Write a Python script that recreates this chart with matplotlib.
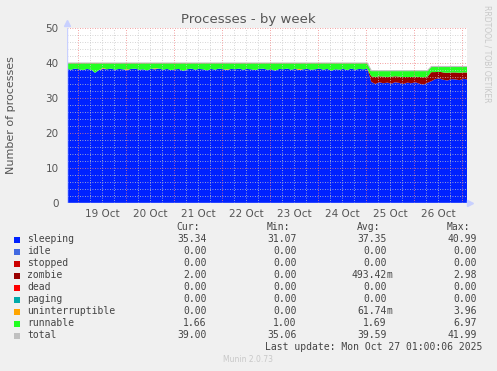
import numpy as np
import matplotlib
matplotlib.use("Agg")
import matplotlib.pyplot as plt

W, H = 497, 371

# ---- data (2-hour samples, days relative to 19 Oct 00:00) ----
start_day = -0.227
step_hours = 2
sleeping = [38.3, 38.1, 38.4, 38.2, 38.0, 38.3, 38.1, 37.2, 38.0, 38.3,
            38.2, 38.4, 38.1, 38.3, 38.2, 38.0, 38.3, 38.4, 38.1, 38.2,
            37.9, 38.3, 38.2, 38.4, 38.1, 38.3, 38.0, 38.2, 38.3, 37.7,
            38.2, 38.4, 38.1, 38.3, 38.2, 37.9, 38.3, 38.1, 38.4, 38.2,
            38.0, 38.3, 38.2, 38.4, 38.1, 38.3, 38.2, 38.0, 38.3, 38.4,
            38.1, 38.2, 37.8, 38.3, 38.2, 38.4, 38.1, 38.3, 38.0, 38.2,
            38.3, 38.1, 38.2, 38.4, 38.1, 38.3, 37.8, 38.2, 38.1, 38.3,
            38.0, 38.4, 38.1, 38.3, 38.2, 38.3,
            34.6, 34.0, 34.5, 34.2, 34.4, 34.1, 34.5, 34.3, 34.0, 34.4,
            34.2, 34.5, 34.1, 33.8, 34.3,
            34.8, 35.4, 35.6, 35.2, 35.0, 35.4, 35.3, 35.1, 35.5, 35.3]
idle = [0.0] * 101
stopped = [0.0] * 101
zombie = [0.0] * 76 + [1.6, 2.0, 1.7, 1.9, 1.6, 2.0, 1.7, 1.8, 2.0, 1.6,
                       1.8, 1.6, 1.9, 2.1, 1.8,
                       2.6, 2.0, 1.9, 2.1, 2.2, 1.9, 2.0, 2.1, 1.8, 2.0]
dead = [0.0] * 101
paging = [0.0] * 101
uninterruptible = ([0.0] * 9 + [0.3] + [0.0] * 5 + [0.2] + [0.0] * 6 + [0.3]
                   + [0.0] * 17 + [0.2] + [0.0] * 17 + [0.3] + [0.0] * 42)
runnable = [1.7, 1.9, 1.6, 1.8, 2.0, 1.7, 1.9, 2.8, 2.0, 1.4,
            1.8, 1.6, 1.9, 1.7, 1.8, 1.8, 1.7, 1.6, 1.9, 1.8,
            2.1, 1.7, 1.5, 1.6, 1.9, 1.7, 2.0, 1.8, 1.7, 2.3,
            1.8, 1.6, 1.9, 1.7, 1.8, 2.1, 1.7, 1.9, 1.6, 1.8,
            1.8, 1.7, 1.8, 1.6, 1.9, 1.7, 1.8, 2.0, 1.7, 1.6,
            1.9, 1.8, 2.2, 1.7, 1.8, 1.6, 1.9, 1.7, 1.7, 1.8,
            1.7, 1.9, 1.8, 1.6, 1.9, 1.7, 2.2, 1.8, 1.9, 1.7,
            2.0, 1.6, 1.9, 1.7, 1.8, 1.7,
            1.6, 1.8, 1.6, 1.7, 1.8, 1.7, 1.6, 1.7, 1.8, 1.8,
            1.8, 1.7, 1.8, 1.9, 1.7,
            1.6, 1.6, 1.5, 1.7, 1.8, 1.7, 1.7, 1.8, 1.7, 1.7]

series_names = ["sleeping", "idle", "stopped", "zombie", "dead", "paging",
                "uninterruptible", "runnable", "total"]
series_colors = ["#0022ff", "#4169e1", "#cc0000", "#990000", "#ff0000",
                 "#00aaaa", "#ffa500", "#22ff22", "#c0c0c0"]
cur_vals = ["35.34", "0.00", "0.00", "2.00", "0.00", "0.00", "0.00", "1.66", "39.00"]
min_vals = ["31.07", "0.00", "0.00", "0.00", "0.00", "0.00", "0.00", "1.00", "35.06"]
avg_vals = ["37.35", "0.00", "0.00", "493.42m", "0.00", "0.00", "61.74m", "1.69", "39.59"]
max_vals = ["40.99", "0.00", "0.00", "2.98", "0.00", "0.00", "3.96", "6.97", "41.99"]
day_labels = ["19 Oct", "20 Oct", "21 Oct", "22 Oct", "23 Oct", "24 Oct", "25 Oct", "26 Oct"]
y_ticks = [0, 10, 20, 30, 40, 50]

# ---- figure ----
BG = "#f0f0f0"
TXT = "#555555"
fig = plt.figure(figsize=(W / 100, H / 100), dpi=100, facecolor=BG)
ax = fig.add_axes([67 / W, 1 - 203 / H, 400 / W, 175 / H])
ax.set_facecolor("white")

t = start_day + np.arange(len(sleeping)) * step_hours / 24.0
stack = [sleeping, idle, stopped, zombie, dead, paging, uninterruptible, runnable]
ax.stackplot(t, *[np.array(s) for s in stack], colors=series_colors[:8],
             linewidth=0, zorder=2)
total = np.sum([np.array(s) for s in stack], axis=0)
ax.plot(t, total, color=series_colors[8], linewidth=0.8, zorder=3)

x0, x1 = start_day, 8.098
ax.set_xlim(x0, x1)
ax.set_ylim(0, 50)

# grid (drawn over data, like rrdtool)
for q in np.arange(-0.0, 8.2, 0.25):
    if abs(q - round(q)) > 1e-6 and x0 < q < x1:
        ax.axvline(q, color="#c8c8c8", lw=0.6, ls=(0, (1, 2)), zorder=4)
for y in range(2, 50, 2):
    if y % 10:
        ax.axhline(y, color="#c8c8c8", lw=0.6, ls=(0, (1, 2)), zorder=4)
for d in range(0, 9):
    ax.axvline(d, color="#f08080", lw=0.6, ls=(0, (1, 2)), zorder=5)
for y in y_ticks[1:]:
    ax.axhline(y, color="#f08080", lw=0.6, ls=(0, (1, 2)), zorder=5)

for s in ax.spines.values():
    s.set_visible(False)
ax.axvline(x0, color="#c8d0ff", lw=1, zorder=6)
ax.axhline(0, color="#c8d0ff", lw=1, zorder=6)
ax.plot([x0], [51.3], marker="^", color="#c8d0ff", ms=4, clip_on=False, zorder=6)
ax.plot([x1 + 0.07], [0], marker=">", color="#c8d0ff", ms=4, clip_on=False, zorder=6)

ax.set_yticks(y_ticks)
ax.set_yticklabels([str(v) for v in y_ticks])
ax.tick_params(axis="y", length=0, pad=6, labelsize=7.5, labelcolor=TXT)
ax.set_xticks(np.arange(len(day_labels)) + 0.5)
ax.set_xticklabels(day_labels)
ax.tick_params(axis="x", length=0, pad=4, labelsize=7.5, labelcolor=TXT)

fig.text(248 / W, 1 - 20 / H, "Processes - by week", ha="center", va="center",
         fontsize=9.5, color="#555555")
fig.text(11 / W, 1 - 115 / H, "Number of processes", ha="center", va="center",
         rotation=90, fontsize=8, color=TXT)
fig.text(487 / W, 1 - 54 / H, "RRDTOOL / TOBI OETIKER", ha="center", va="center",
         rotation=270, fontsize=5.5, color="#c8c8c8")

# ---- legend ----
mono = "DejaVu Sans Mono"
LEG = "#444444"
def px(x, y):
    return x / W, 1 - y / H

col_right = [206.5, 296.5, 386.5, 476.5]
headers = ["Cur:", "Min:", "Avg:", "Max:"]
for cx, h in zip(col_right, headers):
    fig.text(*px(cx - 6.5, 227.5), h, ha="right", va="center", family=mono,
             fontsize=7, color=LEG)

cols = [cur_vals, min_vals, avg_vals, max_vals]
for i, name in enumerate(series_names):
    y = 239.5 + 12 * i
    fig.patches.append(plt.Rectangle(px(14, y + 3), 6 / W, 6 / H,
                                     transform=fig.transFigure,
                                     color=series_colors[i], lw=0))
    fig.text(*px(27, y), name, ha="left", va="center", family=mono,
             fontsize=7, color=LEG)
    for cx, vals in zip(col_right, cols):
        v = vals[i]
        if v.endswith("m"):
            fig.text(*px(cx, y), v[:-1], ha="right", va="center", family=mono,
                     fontsize=7, color=LEG)
            fig.text(*px(cx, y), "m", ha="left", va="center", family=mono,
                     fontsize=7, color=LEG)
        else:
            fig.text(*px(cx, y), v, ha="right", va="center", family=mono,
                     fontsize=7, color=LEG)

fig.text(*px(482.5, 347.5), "Last update: Mon Oct 27 01:00:06 2025", ha="right",
         va="center", family=mono, fontsize=7, color=LEG)
fig.text(*px(248, 360), "Munin 2.0.73", ha="center", va="center",
         fontsize=5.5, color="#c8c8c8")

fig.savefig("out.png", dpi=100, facecolor=BG)
